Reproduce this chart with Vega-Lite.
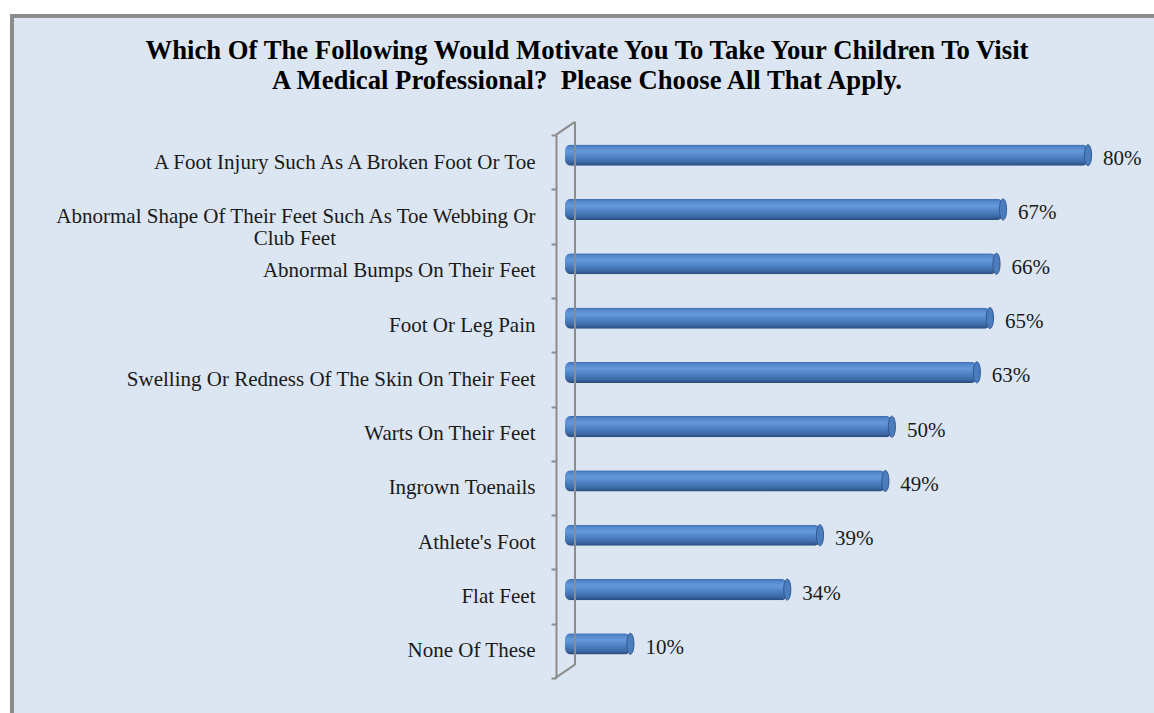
{
  "$schema": "https://vega.github.io/schema/vega-lite/v6.json",
  "width": 1150,
  "height": 700,
  "autosize": {"type": "none"},
  "padding": {"left": 12, "top": 16, "right": 0, "bottom": 0},
  "background": "#ffffff",
  "config": {
    "view": {"fill": "#dce6f2", "stroke": "#8c8c8c", "strokeWidth": 4},
    "font": "Liberation Serif"
  },
  "title": {
    "text": ["Which Of The Following Would Motivate You To Take Your Children To Visit", "A Medical Professional?\u00a0 Please Choose All That Apply."],
    "font": "Liberation Serif",
    "fontSize": 26.7,
    "fontWeight": "bold",
    "color": "#000000",
    "lineHeight": 30,
    "anchor": "middle",
    "frame": "group",
    "baseline": "top",
    "offset": -22,
    "dy": 68
  },
  "data": {"values": [
      {"item": "A Foot Injury Such As A Broken Foot Or Toe", "pct": 0.80},
      {"item": "Abnormal Shape Of Their Feet Such As Toe Webbing Or Club Feet", "pct": 0.67},
      {"item": "Abnormal Bumps On Their Feet", "pct": 0.66},
      {"item": "Foot Or Leg Pain", "pct": 0.65},
      {"item": "Swelling Or Redness Of The Skin On Their Feet", "pct": 0.63},
      {"item": "Warts On Their Feet", "pct": 0.50},
      {"item": "Ingrown Toenails", "pct": 0.49},
      {"item": "Athlete's Foot", "pct": 0.39},
      {"item": "Flat Feet", "pct": 0.34},
      {"item": "None Of These", "pct": 0.10}
  ]},
  "layer": [
    {
      "mark": {
        "type": "bar",
        "height": {"band": 0.39},
        "yOffset": -7,
        "cornerRadius": 6,
        "color": {
          "gradient": "linear", "x1": 0, "y1": 0, "x2": 0, "y2": 1,
          "stops": [
            {"offset": 0, "color": "#3d6cae"},
            {"offset": 0.12, "color": "#5488cc"},
            {"offset": 0.32, "color": "#6599dc"},
            {"offset": 0.6, "color": "#4d80c2"},
            {"offset": 0.85, "color": "#3a67a3"},
            {"offset": 1, "color": "#284a78"}
          ]
        }
      },
      "encoding": {
        "x": {
          "field": "pct", "type": "quantitative",
          "scale": {"domain": [0, 0.8], "range": [553, 1076], "nice": false, "zero": true},
          "axis": null
        },
        "y": {
          "field": "item", "type": "nominal", "sort": null,
          "scale": {"range": [119, 662], "paddingInner": 0, "paddingOuter": 0},
          "axis": {
            "title": null,
            "orient": "left",
            "offset": -544,
            "grid": false,
            "domainColor": "#8c8c8c",
            "domainWidth": 2,
            "tickColor": "#8c8c8c",
            "tickWidth": 2,
            "tickSize": 5,
            "tickBand": "extent",
            "labelPadding": 16,
            "labelFont": "Liberation Serif",
            "labelFontSize": 21,
            "labelColor": "#1a1a1a",
            "labelLimit": 800,
            "labelLineHeight": 22,
            "labelExpr": "datum.value == 'Abnormal Shape Of Their Feet Such As Toe Webbing Or Club Feet' ? ['Abnormal Shape Of Their Feet Such As Toe Webbing Or', pad('Club Feet', 47, '\u00a0') + '\u2060'] : datum.value"
          }
        }
      }
    },
    {
      "mark": {"type": "tick", "color": "#8c8c8c", "thickness": 2, "size": 55, "yOffset": -13, "opacity": 1},
      "encoding": {
        "x": {"datum": 0.0153, "type": "quantitative"},
        "y": {"field": "item", "type": "nominal", "sort": null}
      }
    },
    {
      "data": {"values": [{"item": "A Foot Injury Such As A Broken Foot Or Toe"}]},
      "mark": {"type": "point", "shape": "M-0.95,0.65 L0.95,-0.65", "size": 400, "filled": false, "stroke": "#8c8c8c", "strokeWidth": 2, "opacity": 1, "yOffset": -33.6},
      "encoding": {
        "x": {"datum": 0, "type": "quantitative"},
        "y": {"field": "item", "type": "nominal", "sort": null}
      }
    },
    {
      "data": {"values": [{"item": "None Of These"}]},
      "mark": {"type": "point", "shape": "M-0.95,0.65 L0.95,-0.65", "size": 400, "filled": false, "stroke": "#8c8c8c", "strokeWidth": 2, "opacity": 1, "yOffset": 20.6},
      "encoding": {
        "x": {"datum": 0, "type": "quantitative"},
        "y": {"field": "item", "type": "nominal", "sort": null}
      }
    },
    {
      "mark": {
        "type": "point",
        "shape": "M0,-1 A0.34,1 0 1,1 0,1 A0.34,1 0 1,1 0,-1 Z",
        "size": 441,
        "filled": true,
        "fill": "#4a7cbe",
        "stroke": "#2f5890",
        "strokeWidth": 1,
        "opacity": 1,
        "yOffset": -7
      },
      "encoding": {
        "x": {"field": "pct", "type": "quantitative"},
        "y": {"field": "item", "type": "nominal", "sort": null}
      }
    },
    {
      "mark": {
        "type": "text",
        "align": "left",
        "baseline": "middle",
        "dx": 15,
        "dy": -3,
        "font": "Liberation Serif",
        "fontSize": 21,
        "color": "#1a1a1a"
      },
      "encoding": {
        "x": {"field": "pct", "type": "quantitative"},
        "y": {"field": "item", "type": "nominal", "sort": null},
        "text": {"field": "pct", "type": "quantitative", "format": ".0%"}
      }
    }
  ]
}
